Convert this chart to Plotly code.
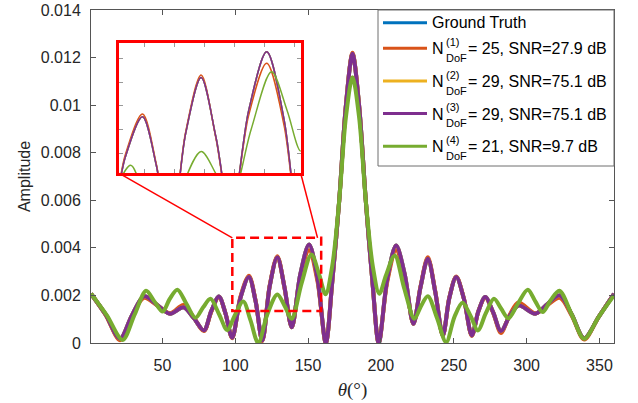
import plotly.graph_objects as go

# ---------------- data ----------------
theta_gt = [1, 11, 20.9, 29, 37.4, 46, 55.3, 64.5, 71.5, 78.5, 83.6, 88.8, 93.3, 97.9,
            103.6, 109.4, 114, 118.6, 123.7, 128.9, 133.8, 138.8, 144.7, 150.7, 156.5,
            162.2, 166.5, 171.4, 176, 180.5, 185, 189.6, 194.3, 198.5, 204.3, 210.4,
            216.3, 222.3, 227.2, 232.2, 237.3, 242.5, 247, 251.7, 257, 262.4, 267,
            271.6, 277, 282.4, 288.5, 294.5, 306, 314.5, 322.8, 331, 339.5, 349.5, 360]

amp_gt = [0.00207, 0.00120, 0.00018, 0.00115, 0.00196, 0.00162, 0.00123, 0.00150,
          0.00105, 0.00053, 0.00135, 0.00196, 0.00125, 0.00022, 0.00190, 0.00277,
          0.00175, 0.00010, 0.00240, 0.00360, 0.00235, 0.00066, 0.00290, 0.00414,
          0.00270, 0.0, 0.0025, 0.0060, 0.0100, 0.01216, 0.0100, 0.0060, 0.0025,
          0.0, 0.00265, 0.00410, 0.00290, 0.00081, 0.00235, 0.00354, 0.00215,
          0.00032, 0.00190, 0.00277, 0.00185, 0.00032, 0.00135, 0.00193, 0.00130,
          0.00050, 0.00115, 0.00158, 0.00123, 0.00165, 0.00200, 0.00120, 0.00020,
          0.00110, 0.00207]

amp_1 = [0.00207, 0.00118, 0.00012, 0.00112, 0.00190, 0.00160, 0.00125, 0.00160,
         0.00108, 0.00050, 0.00132, 0.00192, 0.00125, 0.00020, 0.00195, 0.00283,
         0.00178, 0.00008, 0.00243, 0.00365, 0.00232, 0.00066, 0.00280, 0.00390,
         0.00258, 0.0, 0.0025, 0.0060, 0.0100, 0.01220, 0.0100, 0.0060, 0.0025,
         0.0, 0.00255, 0.00390, 0.00280, 0.00081, 0.00238, 0.00360, 0.00218,
         0.00030, 0.00192, 0.00280, 0.00186, 0.00030, 0.00135, 0.00190, 0.00128,
         0.00042, 0.00120, 0.00170, 0.00125, 0.00160, 0.00190, 0.00115, 0.00015,
         0.00110, 0.00207]

amp_2 = list(amp_gt)
amp_3 = list(amp_gt)

theta_4 = [1, 12, 22.7, 31, 38.8, 44.5, 50.2, 55, 60.3, 66.5, 72.7, 78, 83, 89, 94.5,
           100, 105.5, 110.5, 115.8, 122, 128.9, 134, 138.8, 145.5, 152.3, 157.5, 162,
           166.5, 171.4, 176, 180.5, 185, 189.6, 194.5, 198.9, 203.5, 209.5, 216, 223,
           227.5, 232.2, 238.5, 244.8, 250.5, 256, 261.5, 266.6, 272, 277.6, 282.5,
           287.5, 294, 300.8, 306, 311, 316.5, 322.5, 331, 339.5, 349.5, 360]

amp_4 = [0.00207, 0.00115, 0.00013, 0.00120, 0.00220, 0.00175, 0.00132, 0.00185,
         0.00224, 0.00165, 0.00106, 0.00150, 0.00186, 0.00120, 0.00055, 0.00120,
         0.00175, 0.00095, 0.0, 0.00120, 0.00204, 0.00155, 0.00102, 0.00250, 0.00372,
         0.00290, 0.00205, 0.0032, 0.0060, 0.0095, 0.01117, 0.0095, 0.0060, 0.0032,
         0.00207, 0.00285, 0.00368, 0.00230, 0.00102, 0.00155, 0.00197, 0.00105,
         0.00003, 0.00110, 0.00169, 0.00115, 0.00053, 0.00125, 0.00186, 0.00145,
         0.00104, 0.00165, 0.00224, 0.00175, 0.00130, 0.00180, 0.00220, 0.00120,
         0.00018, 0.00110, 0.00200]

series_names = ["Ground Truth",
                "N_DoF^(1) = 25, SNR=27.9 dB",
                "N_DoF^(2) = 29, SNR=75.1 dB",
                "N_DoF^(3) = 29, SNR=75.1 dB",
                "N_DoF^(4) = 21, SNR=9.7 dB"]
legend_sup = ["(1)", "(2)", "(3)", "(4)"]
legend_rest = ["= 25, SNR=27.9 dB", "= 29, SNR=75.1 dB", "= 29, SNR=75.1 dB", "= 21, SNR=9.7 dB"]
colors = ["#0072BD", "#D95319", "#EDB120", "#7E2F8E", "#77AC30"]

y_ticks = [0, 0.002, 0.004, 0.006, 0.008, 0.01, 0.012, 0.014]
y_ticktext = ["0", "0.002", "0.004", "0.006", "0.008", "0.01", "0.012", "0.014"]
x_ticks = [50, 100, 150, 200, 250, 300, 350]

x_range = [1, 360]
y_range = [0, 0.014]
zoom_x = [98, 159]
zoom_y = [0.00135, 0.00442]
inset_x = [101.7, 162]
inset_y = [0.00158, 0.00432]

# ---------------- figure ----------------
W, H = 638, 403
ML, MR, MT, MB = 91, 24, 10, 60
PW, PH = W - ML - MR, H - MT - MB

def px(x):  # pixel -> paper x
    return (x - ML) / PW

def py(y):  # pixel -> paper y
    return (H - MB - y) / PH

FONT = "Liberation Sans, Arial, Helvetica, sans-serif"
fig = go.Figure()

all_x = [theta_gt, theta_gt, theta_gt, theta_gt, theta_4]
all_y = [amp_gt, amp_1, amp_2, amp_3, amp_4]

for xs, ys, c, n in zip(all_x, all_y, colors, series_names):
    fig.add_trace(go.Scatter(x=xs, y=ys, mode="lines", name=n, showlegend=False,
                             line=dict(color=c, width=4, shape="spline", smoothing=0.9),
                             xaxis="x", yaxis="y"))
for xs, ys, c, n in zip(all_x, all_y, colors, series_names):
    fig.add_trace(go.Scatter(x=xs, y=ys, mode="lines", name=n, showlegend=False,
                             line=dict(color=c, width=1.5, shape="spline", smoothing=0.9),
                             xaxis="x2", yaxis="y2"))

# inset domain
ix0, ix1 = px(119.3), px(300.7)
iy0, iy1 = py(173.3), py(43.3)

fig.update_layout(
    width=W, height=H, margin=dict(l=ML, r=MR, t=MT, b=MB, autoexpand=False),
    paper_bgcolor="white", plot_bgcolor="white", showlegend=False,
    font=dict(family=FONT, size=16, color="#262626"),
    xaxis=dict(range=x_range, tickvals=x_ticks, showgrid=False, zeroline=False,
               showline=True, linecolor="#555555", linewidth=1, mirror="ticks",
               ticks="inside", ticklen=5, tickcolor="#555555", automargin=False,
               tickfont=dict(size=16, color="#262626"), ticklabelstandoff=8,
               title=dict(text="<i>θ</i>(°)", font=dict(family="Liberation Serif, Times New Roman, serif",
                                                        size=19, color="#262626"), standoff=9)),
    yaxis=dict(range=y_range, tickvals=y_ticks, ticktext=y_ticktext, showgrid=False,
               zeroline=False, showline=True, linecolor="#555555", linewidth=1,
               mirror="ticks", ticks="inside", ticklen=5, tickcolor="#555555", automargin=False,
               tickfont=dict(size=16, color="#262626"), ticklabelstandoff=6,
               title=dict(text="Amplitude", font=dict(size=16, color="#262626"), standoff=6)),
    xaxis2=dict(domain=[ix0, ix1], anchor="y2", range=inset_x, showticklabels=False,
                showgrid=False, zeroline=False, showline=True, linecolor="#FF0000",
                linewidth=3, mirror="ticks", ticks="inside", ticklen=4, automargin=False,
                tickcolor="#999999", dtick=10, tick0=0),
    yaxis2=dict(domain=[iy0, iy1], anchor="x2", range=inset_y, showticklabels=False,
                showgrid=False, zeroline=False, showline=True, linecolor="#FF0000",
                linewidth=3, mirror="ticks", ticks="inside", ticklen=4, automargin=False,
                tickcolor="#999999", dtick=0.0005, tick0=0),
)

def d2p(x, y):
    return ((x - x_range[0]) / (x_range[1] - x_range[0]),
            (y - y_range[0]) / (y_range[1] - y_range[0]))

shapes = []
# dashed zoom rectangle
shapes.append(dict(type="rect", xref="x", yref="y", x0=zoom_x[0], x1=zoom_x[1],
                   y0=zoom_y[0], y1=zoom_y[1], line=dict(color="#FF0000", width=2.5, dash="9px,5px"),
                   layer="above"))
# connectors
zx0, zy1 = d2p(zoom_x[0], zoom_y[1])
zx1, _ = d2p(zoom_x[1] - 2.5, zoom_y[1])
shapes.append(dict(type="line", xref="paper", yref="paper", x0=ix0, y0=iy0, x1=zx0, y1=zy1,
                   line=dict(color="#FF0000", width=1.5), layer="above"))
shapes.append(dict(type="line", xref="paper", yref="paper", x0=ix1, y0=iy0, x1=zx1, y1=zy1,
                   line=dict(color="#FF0000", width=1.5), layer="above"))

# legend box
shapes.append(dict(type="rect", xref="paper", yref="paper", x0=px(378), x1=1.0,
                   y0=py(166), y1=1.0, line=dict(color="#6e6e6e", width=1),
                   fillcolor="white", layer="above"))
row_y = [22.7, 48.3, 81.0, 113.6, 146.3]
for ry, c in zip(row_y, colors):
    shapes.append(dict(type="line", xref="paper", yref="paper", x0=px(383), x1=px(427),
                       y0=py(ry), y1=py(ry), line=dict(color=c, width=3), layer="above"))

annotations = []
annotations.append(dict(xref="paper", yref="paper", x=px(431), y=py(22.7), text="Ground Truth",
                        showarrow=False, xanchor="left", yanchor="middle", borderpad=0,
                        font=dict(size=16, color="#000000")))
for ry, sup, rest in zip(row_y[1:], legend_sup, legend_rest):
    annotations.append(dict(xref="paper", yref="paper", x=px(431), y=py(ry + 0.5), text="N",
                            showarrow=False, xanchor="left", yanchor="middle", borderpad=0,
                            font=dict(size=16, color="#000000")))
    annotations.append(dict(xref="paper", yref="paper", x=px(445), y=py(ry - 6.5), text=sup,
                            showarrow=False, xanchor="left", yanchor="middle", borderpad=0,
                            font=dict(size=11, color="#000000")))
    annotations.append(dict(xref="paper", yref="paper", x=px(445), y=py(ry + 9.5), text="DoF",
                            showarrow=False, xanchor="left", yanchor="middle", borderpad=0,
                            font=dict(size=11, color="#000000")))
    annotations.append(dict(xref="paper", yref="paper", x=px(466.5), y=py(ry + 0.5), text=rest,
                            showarrow=False, xanchor="left", yanchor="middle", borderpad=0,
                            font=dict(size=16, color="#000000")))

fig.update_layout(shapes=shapes, annotations=annotations)
fig.write_html("out.html")
